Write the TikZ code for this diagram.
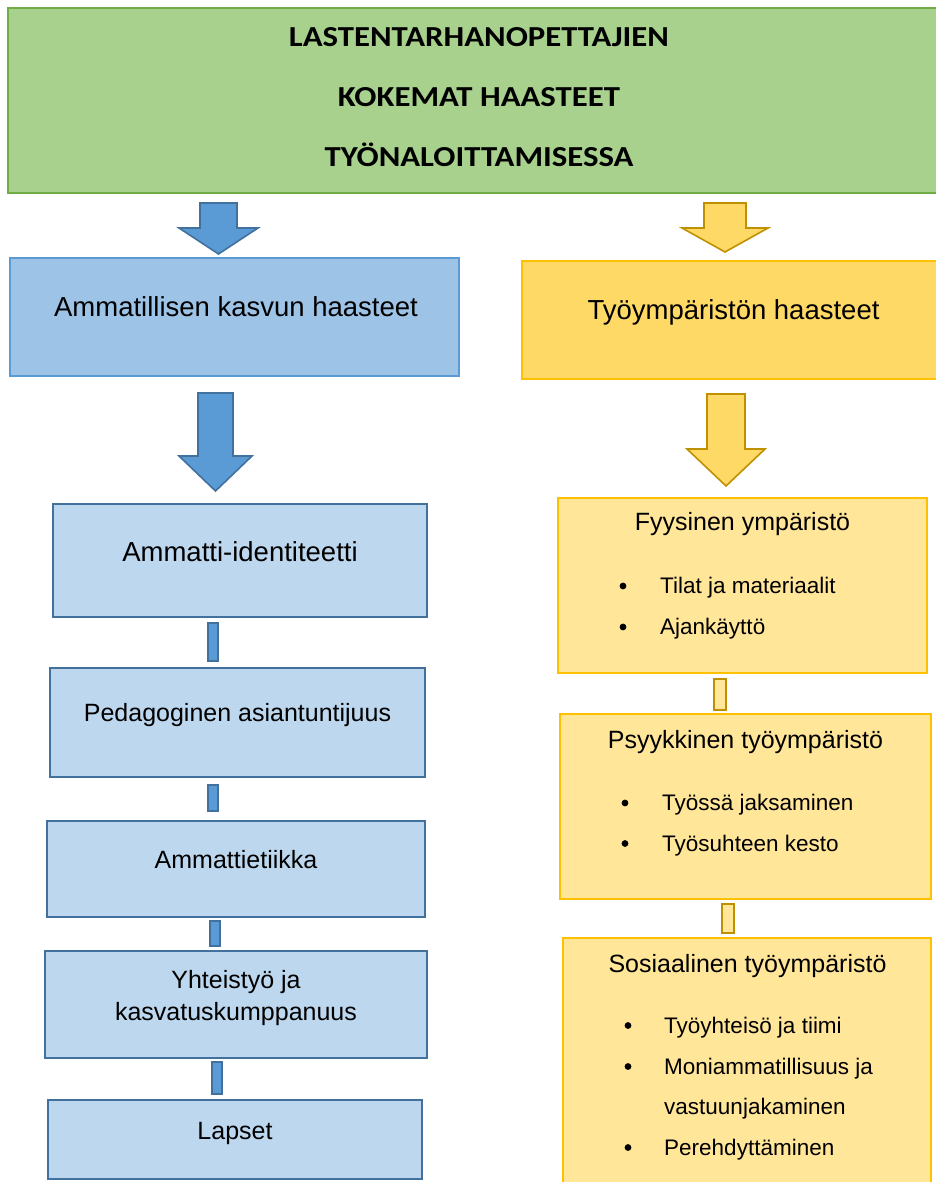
\documentclass[tikz,border=0pt]{standalone}
\usepackage{fontspec}
\usepackage{graphicx}
\setmainfont{Liberation Sans}
\newfontfamily\calfont{Carlito}
\definecolor{gfill}{HTML}{A9D18E}
\definecolor{gline}{HTML}{70AD47}
\definecolor{bdark}{HTML}{41719C}
\definecolor{bmid}{HTML}{5B9BD5}
\definecolor{bhead}{HTML}{9DC3E6}
\definecolor{blight}{HTML}{BDD7EE}
\definecolor{ydark}{HTML}{BF9000}
\definecolor{ymid}{HTML}{FFC000}
\definecolor{yhead}{HTML}{FFD966}
\definecolor{ylight}{HTML}{FFE699}
\newcommand{\wideT}[1]{\scalebox{1.13}[1]{#1}}
\tikzset{
  titlebox/.style={draw=gline, fill=gfill, line width=2pt},
  bheadbox/.style={draw=bmid, fill=bhead, line width=2pt},
  yheadbox/.style={draw=ymid, fill=yhead, line width=2pt},
  lbox/.style={draw=bdark, fill=blight, line width=2pt},
  rbox/.style={draw=ymid, fill=ylight, line width=2pt},
  barrow/.style={draw=bdark, fill=bmid, line width=1.6pt, line join=miter},
  yarrow/.style={draw=ydark, fill=yhead, line width=1.6pt, line join=miter},
  blink/.style={draw=bdark, fill=bmid, line width=1.2pt},
  ylink/.style={draw=ydark, fill=ylight, line width=1.8pt},
  ttl/.style={anchor=base, font=\calfont\bfseries\fontsize{29}{35}\selectfont},
  big/.style={anchor=base, font=\fontsize{27.5}{33}\selectfont},
  mid/.style={anchor=base, font=\fontsize{25}{30}\selectfont},
  itm/.style={anchor=base west, inner sep=0pt, font=\fontsize{22.5}{27}\selectfont},
  dot/.style={fill=black},
}
\begin{document}
\begin{tikzpicture}[x=1pt,y=-1pt]
\useasboundingbox (0,0) rectangle (935,1182);
\fill[white] (0,0) rectangle (935,1182);

% title
\draw[titlebox] (8,8) rectangle (950,193);
\node[ttl] (ta) at (479,46.7) {\wideT{LASTENTARHANOPETTAJIEN}};
\node[ttl] (tb) at (479,106.7) {\wideT{KOKEMAT HAASTEET}};
\node[ttl] (tc) at (479,166.7) {\wideT{TYÖNALOITTAMISESSA}};

% first arrows
\draw[barrow] (200,203) -- (237,203) -- (237,228) -- (258,228) -- (218.5,254) -- (179,228) -- (200,228) -- cycle;
\draw[yarrow] (704,203) -- (746,203) -- (746,228) -- (768,228) -- (725,252) -- (682,228) -- (704,228) -- cycle;

% headers
\draw[bheadbox] (10,258) rectangle (459,376);
\node[big] (hl) at (236,316) {Ammatillisen kasvun haasteet};
\draw[yheadbox] (522,261) rectangle (950,379);
\node[big] (hr) at (733.5,319) {Työympäristön haasteet};

% second arrows
\draw[barrow] (198,393) -- (233,393) -- (233,456) -- (252,456) -- (215.5,491) -- (179,456) -- (198,456) -- cycle;
\draw[yarrow] (707,394) -- (745,394) -- (745,449) -- (765,449) -- (726,486) -- (687,449) -- (707,449) -- cycle;

% left column
\draw[lbox] (53,504) rectangle (427,617);
\node[big] (l1) at (240,561) {Ammatti-identiteetti};
\draw[blink] (208,623) rectangle (218,661);
\draw[lbox] (50,668) rectangle (425,777);
\node[mid] (l2) at (237.5,721) {Pedagoginen asiantuntijuus};
\draw[blink] (208,785) rectangle (218,811);
\draw[lbox] (47,821) rectangle (425,917);
\node[mid] (l3) at (236,868) {Ammattietiikka};
\draw[blink] (210,921) rectangle (220,946);
\draw[lbox] (45,951) rectangle (427,1058);
\node[mid] (l4a) at (236,988) {Yhteistyö ja};
\node[mid] (l4b) at (236,1020) {kasvatuskumppanuus};
\draw[blink] (212,1062) rectangle (222,1094);
\draw[lbox] (48,1100) rectangle (422,1179);
\node[mid] (l5) at (235,1139) {Lapset};

% right column
\draw[rbox] (558,498) rectangle (927,673);
\node[mid] (r1) at (742.5,530.5) {Fyysinen ympäristö};
\fill[dot] (623,586) circle (3.4pt);
\node[itm] (r1a) at (660,593) {Tilat ja materiaalit};
\fill[dot] (623,627) circle (3.4pt);
\node[itm] (r1b) at (660,634.5) {Ajankäyttö};
\draw[ylink] (714,679) rectangle (726,710);

\draw[rbox] (560,714) rectangle (931,899);
\node[mid] (r2) at (745.5,748) {Psyykkinen työympäristö};
\fill[dot] (625,803) circle (3.4pt);
\node[itm] (r2a) at (662,810.5) {Työssä jaksaminen};
\fill[dot] (625,843.5) circle (3.4pt);
\node[itm] (r2b) at (662,851) {Työsuhteen kesto};
\draw[ylink] (722,904) rectangle (734,933);

\draw[rbox] (563,938) rectangle (931,1200);
\node[mid] (r3) at (747.5,972.5) {Sosiaalinen työympäristö};
\fill[dot] (628,1025.5) circle (3.4pt);
\node[itm] (r3a) at (664,1033) {Työyhteisö ja tiimi};
\fill[dot] (628,1066.5) circle (3.4pt);
\node[itm] (r3b) at (664,1074) {Moniammatillisuus ja};
\node[itm] (r3c) at (664,1114.5) {vastuunjakaminen};
\fill[dot] (628,1147.5) circle (3.4pt);
\node[itm] (r3d) at (664,1155) {Perehdyttäminen};
\end{tikzpicture}
\end{document}
